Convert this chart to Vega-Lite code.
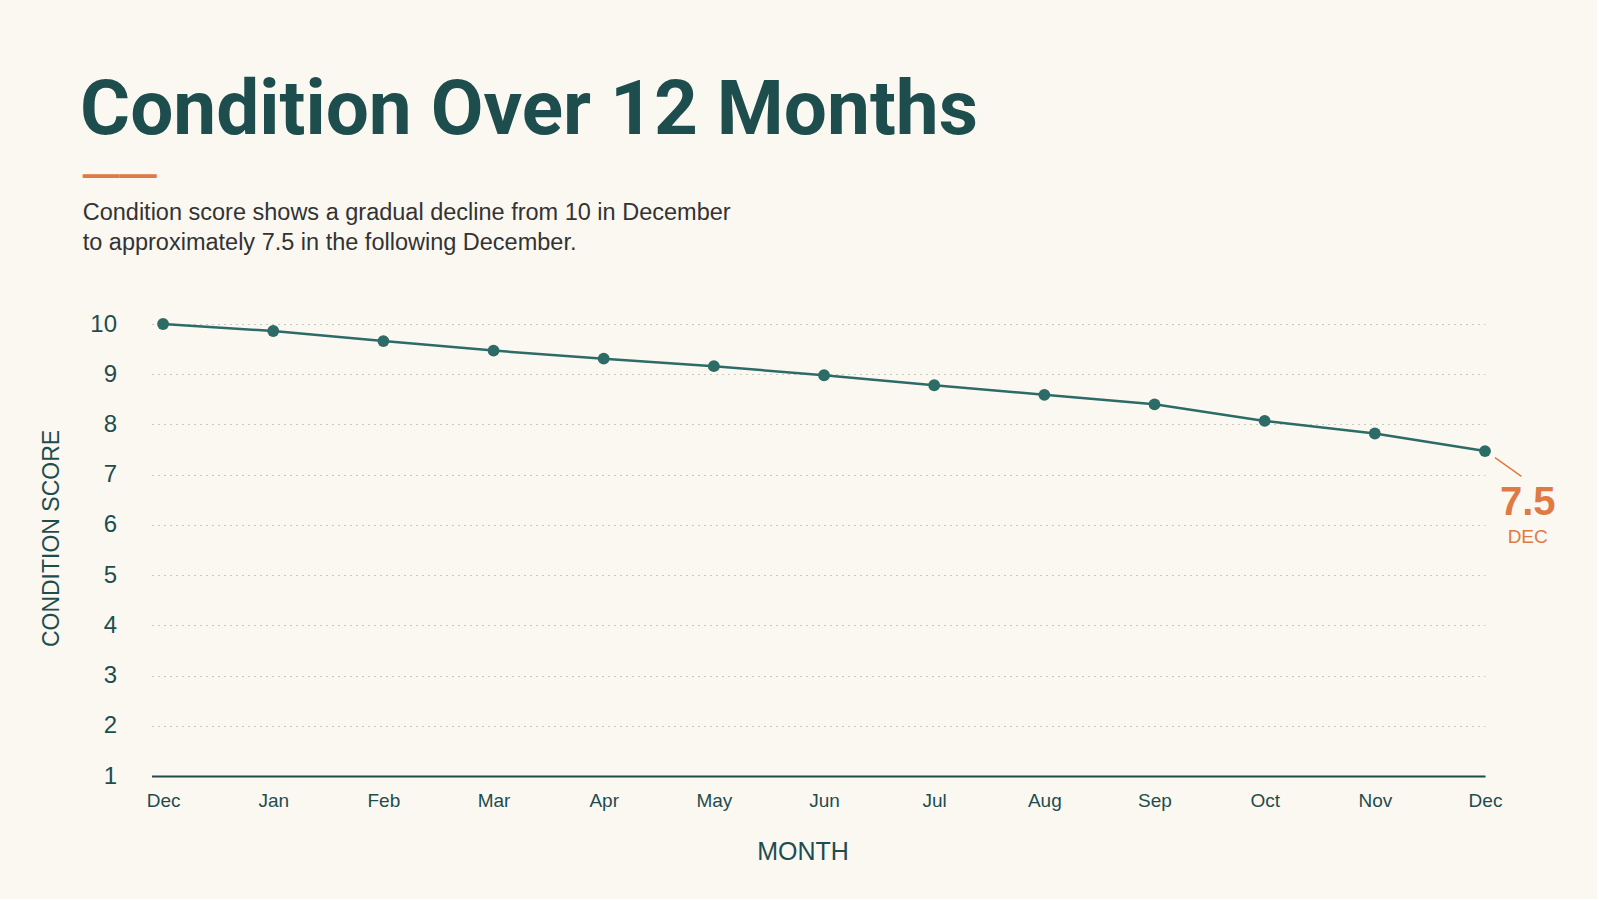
{
  "$schema": "https://vega.github.io/schema/vega-lite/v6.json",
  "background": "#fbf8f2",
  "padding": {"left": 40.5, "top": 72, "right": 41, "bottom": 35},
  "title": {
    "text": "Condition Over 12 Months",
    "anchor": "start",
    "frame": "group",
    "font": "Roboto",
    "fontSize": 76.5,
    "fontWeight": "bold",
    "color": "#1e4d4e",
    "dx": -71.4,
    "offset": 5.5
  },
  "vconcat": [
    {
      "title": {
        "text": "——",
        "subtitle": [
          "Condition score shows a gradual decline from 10 in December",
          "to approximately 7.5 in the following December."
        ],
        "anchor": "start",
        "frame": "bounds",
        "dx": 42.2,
        "font": "Liberation Sans",
        "fontSize": 37,
        "fontWeight": "bold",
        "color": "#e07a45",
        "subtitleFont": "Liberation Sans",
        "subtitleFontSize": 23.5,
        "subtitleColor": "#333333",
        "subtitleLineHeight": 30,
        "subtitlePadding": 7,
        "offset": 57
      },
      "width": 1333.5,
      "height": 452,
      "data": {
        "values": [
          {"idx": 0, "month": "Dec", "score": 10.0},
          {"idx": 1, "month": "Jan", "score": 9.86},
          {"idx": 2, "month": "Feb", "score": 9.66},
          {"idx": 3, "month": "Mar", "score": 9.47},
          {"idx": 4, "month": "Apr", "score": 9.31},
          {"idx": 5, "month": "May", "score": 9.16},
          {"idx": 6, "month": "Jun", "score": 8.98},
          {"idx": 7, "month": "Jul", "score": 8.78},
          {"idx": 8, "month": "Aug", "score": 8.59},
          {"idx": 9, "month": "Sep", "score": 8.4},
          {"idx": 10, "month": "Oct", "score": 8.07},
          {"idx": 11, "month": "Nov", "score": 7.82},
          {"idx": 12, "month": "Dec", "score": 7.47}
        ]
      },
      "encoding": {
        "x": {
          "field": "idx",
          "type": "quantitative",
          "scale": {"domain": [-0.105, 12], "nice": false, "zero": false},
          "axis": {
            "title": "MONTH",
            "values": [0, 1, 2, 3, 4, 5, 6, 7, 8, 9, 10, 11, 12],
            "labelExpr": "['Dec','Jan','Feb','Mar','Apr','May','Jun','Jul','Aug','Sep','Oct','Nov','Dec'][datum.value]",
            "grid": false,
            "ticks": false,
            "tickSize": 0,
            "domainColor": "#1e4d4e",
            "domainWidth": 2,
            "labelFont": "Liberation Sans",
            "labelFontSize": 19,
            "labelColor": "#1e4d4e",
            "labelPadding": 15,
            "labelFlush": false,
            "labelOverlap": false,
            "titleFont": "Liberation Sans",
            "titleFontSize": 25,
            "titleFontWeight": "normal",
            "titleColor": "#1e4d4e",
            "titleX": 651,
            "titleY": 75,
            "titleBaseline": "middle",
            "titleAlign": "center"
          }
        },
        "y": {
          "field": "score",
          "type": "quantitative",
          "scale": {"domain": [1, 10], "nice": false, "zero": false},
          "axis": {
            "title": "CONDITION SCORE",
            "values": [1, 2, 3, 4, 5, 6, 7, 8, 9, 10],
            "domain": false,
            "ticks": false,
            "tickSize": 0,
            "grid": true,
            "gridColor": "#c9c9c2",
            "gridDash": [2, 4],
            "gridWidth": 1,
            "labelFont": "Liberation Sans",
            "labelFontSize": 24,
            "labelColor": "#1e4d4e",
            "labelPadding": 35,
            "labelFlush": false,
            "titleFont": "Liberation Sans",
            "titleFontSize": 23,
            "titleFontWeight": "normal",
            "titleColor": "#1e4d4e",
            "titleAngle": 270,
            "titleX": -100,
            "titleY": 214,
            "titleBaseline": "middle",
            "titleAlign": "center"
          }
        }
      },
      "layer": [
        {
          "mark": {"type": "line", "color": "#2c6b66", "strokeWidth": 2.5}
        },
        {
          "mark": {"type": "point", "filled": true, "opacity": 1, "color": "#2c6b66", "size": 140}
        },
        {
          "transform": [{"filter": "datum.idx == 12"}],
          "mark": {"type": "rule", "color": "#e07a45", "strokeWidth": 1.5, "xOffset": 10, "yOffset": 6.6, "x2Offset": 36.4, "y2Offset": 25.3},
          "encoding": {
            "x2": {"field": "idx"},
            "y2": {"field": "score"}
          }
        },
        {
          "transform": [{"filter": "datum.idx == 12"}],
          "mark": {"type": "text", "font": "Liberation Sans", "fontSize": 40, "fontWeight": "bold", "color": "#e07a45", "align": "center", "baseline": "middle", "dx": 42.7, "dy": 52},
          "encoding": {
            "text": {"field": "score", "type": "quantitative", "format": ".1f"}
          }
        },
        {
          "transform": [{"filter": "datum.idx == 12"}],
          "mark": {"type": "text", "font": "Liberation Sans", "fontSize": 19, "color": "#e07a45", "align": "center", "baseline": "middle", "dx": 42.7, "dy": 86},
          "encoding": {
            "text": {"value": "DEC"}
          }
        }
      ]
    }
  ],
  "config": {
    "view": {"stroke": null},
    "concat": {"spacing": 0}
  }
}
